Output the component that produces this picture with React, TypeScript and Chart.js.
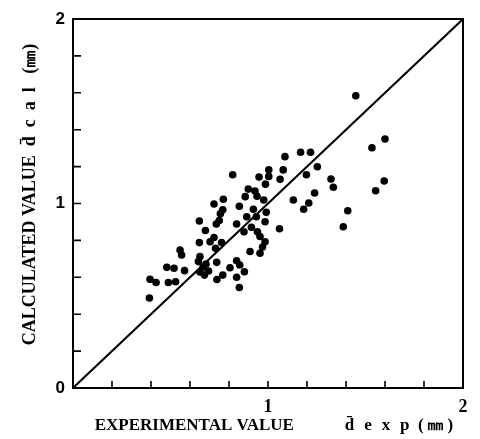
import React, { useEffect, useRef } from "react";
import { Chart, registerables } from "chart.js";

Chart.register(...registerables);

// Experimental values (x) and calculated values (y), in mm
const expValues: number[] = [
  0.392, 0.395, 0.426, 0.481, 0.518, 0.489, 0.526, 0.572, 0.549, 0.557,
  0.651, 0.643, 0.667, 0.695, 0.674, 0.651, 0.682, 0.737, 0.768, 0.738,
  0.805, 0.839, 0.855, 0.879, 0.839, 0.853, 0.648, 0.703, 0.723, 0.762,
  0.731, 0.679, 0.648, 0.735, 0.75, 0.756, 0.768, 0.723, 0.771, 0.853,
  0.925, 0.839, 0.891, 0.94, 0.991, 0.985, 0.915, 0.946, 0.877, 0.959,
  0.985, 0.972, 0.959, 0.908, 1.059, 0.819, 1.087, 1.167, 1.218, 1.253,
  1.004, 1.078, 0.954, 1.004, 1.062, 0.987, 1.197, 0.899, 0.933, 0.883,
  0.944, 0.978, 1.13, 1.239, 1.209, 1.183, 1.323, 1.335, 1.409, 1.386,
  1.45, 1.6, 1.533, 1.596, 1.552,
];
const calValues: number[] = [
  0.488, 0.589, 0.572, 0.654, 0.649, 0.572, 0.576, 0.636, 0.748, 0.721,
  0.712, 0.685, 0.656, 0.634, 0.612, 0.629, 0.672, 0.681, 0.612, 0.588,
  0.652, 0.69, 0.667, 0.63, 0.6, 0.545, 0.788, 0.793, 0.816, 0.788,
  0.757, 0.854, 0.905, 0.889, 0.908, 0.945, 0.966, 0.997, 1.023, 0.985,
  0.969, 0.889, 0.928, 0.928, 0.952, 0.901, 0.871, 0.847, 0.847, 0.821,
  0.793, 0.764, 0.73, 0.74, 0.863, 1.156, 1.254, 1.278, 1.278, 1.199,
  1.183, 1.182, 1.144, 1.147, 1.131, 1.105, 1.156, 1.078, 1.068, 1.037,
  1.039, 1.019, 1.019, 1.057, 1.003, 0.969, 1.133, 1.088, 0.961, 0.874,
  1.584, 1.35, 1.302, 1.122, 1.069,
];
const diagonal: number[] = [0, 2];
const minorTicks: number[] = [0.2, 0.4, 0.6, 0.8, 1.0, 1.2, 1.4, 1.6, 1.8];
const xTitle =
  "\u2002\u2009EXPERIMENTAL VALUE\u2003\u2003\u2003d\u0304\u2002\u200Ae\u2002\u200Ax\u2002\u200Ap\u2002(\u2009\u339C\u2009)";
const yTitle = "\u2002\u2002CALCULATED VALUE  d\u0304\u2002c\u2002a\u2002l\u2002 (\u339C)";

const frame = {
  id: "frame",
  afterDatasetsDraw(chart: any) {
    const { ctx, chartArea } = chart;
    const xs = chart.scales.x;
    const ys = chart.scales.y;
    ctx.save();
    ctx.strokeStyle = "#000";
    ctx.lineWidth = 2;
    ctx.strokeRect(chartArea.left, chartArea.top, chartArea.right - chartArea.left, chartArea.bottom - chartArea.top);
    ctx.lineWidth = 1.6;
    ctx.beginPath();
    for (const v of minorTicks) {
      const px = xs.getPixelForValue(v);
      ctx.moveTo(px, chartArea.bottom);
      ctx.lineTo(px, chartArea.bottom - 7);
      const py = ys.getPixelForValue(v);
      ctx.moveTo(chartArea.left, py);
      ctx.lineTo(chartArea.left + 8, py);
    }
    ctx.stroke();
    ctx.restore();
  },
};

export default function App() {
  const ref = useRef<HTMLCanvasElement>(null);
  useEffect(() => {
    if (!ref.current) return;
    const points = expValues.map((x, i) => ({ x, y: calValues[i] }));
    const chart = new Chart(ref.current, {
      type: "scatter",
      data: {
        datasets: [
          {
            type: "line",
            data: diagonal.map((v) => ({ x: v, y: v })),
            borderColor: "#000",
            borderWidth: 2,
            pointRadius: 0,
            fill: false,
          } as any,
          {
            data: points,
            backgroundColor: "#000",
            borderColor: "#000",
            pointRadius: 3.8,
            borderWidth: 0,
          },
        ],
      },
      options: {
        animation: false,
        responsive: false,
        devicePixelRatio: 1,
        layout: { padding: { left: 0, top: 19, right: 17, bottom: 0 } },
        plugins: { legend: { display: false }, tooltip: { enabled: false } },
        scales: {
          x: {
            type: "linear",
            min: 0,
            max: 2,
            grid: { display: false, drawTicks: false },
            border: { display: false },
            ticks: {
              stepSize: 1,
              padding: 9,
              color: "#000",
              font: { family: "Liberation Serif", size: 18, weight: "bold" },
              callback: (v: any) => (v === 0 ? "" : String(v)),
            },
            title: {
              display: true,
              text: xTitle,
              color: "#000",
              font: { family: "Liberation Serif", size: 17, weight: "bold" },
              padding: { top: 0, bottom: 3 },
            },
            afterFit: (s: any) => {
              s.height = 51;
            },
          },
          y: {
            type: "linear",
            min: 0,
            max: 2,
            grid: { display: false, drawTicks: false },
            border: { display: false },
            ticks: {
              stepSize: 1,
              padding: 8,
              color: "#000",
              font: { family: "Liberation Sans", size: 17, weight: "bold" },
            },
            title: {
              display: true,
              text: yTitle,
              color: "#000",
              font: { family: "Liberation Serif", size: 18, weight: "bold" },
              padding: { top: 20, bottom: 0 },
            },
            afterFit: (s: any) => {
              s.width = 73;
            },
          },
        },
      },
      plugins: [frame],
    });
    return () => chart.destroy();
  }, []);
  return (
    <div style={{ position: "absolute", left: 0, top: 0, width: 480, height: 439, background: "#fff" }}>
      <canvas ref={ref} width={480} height={439} style={{ width: 480, height: 439 }} />
    </div>
  );
}
